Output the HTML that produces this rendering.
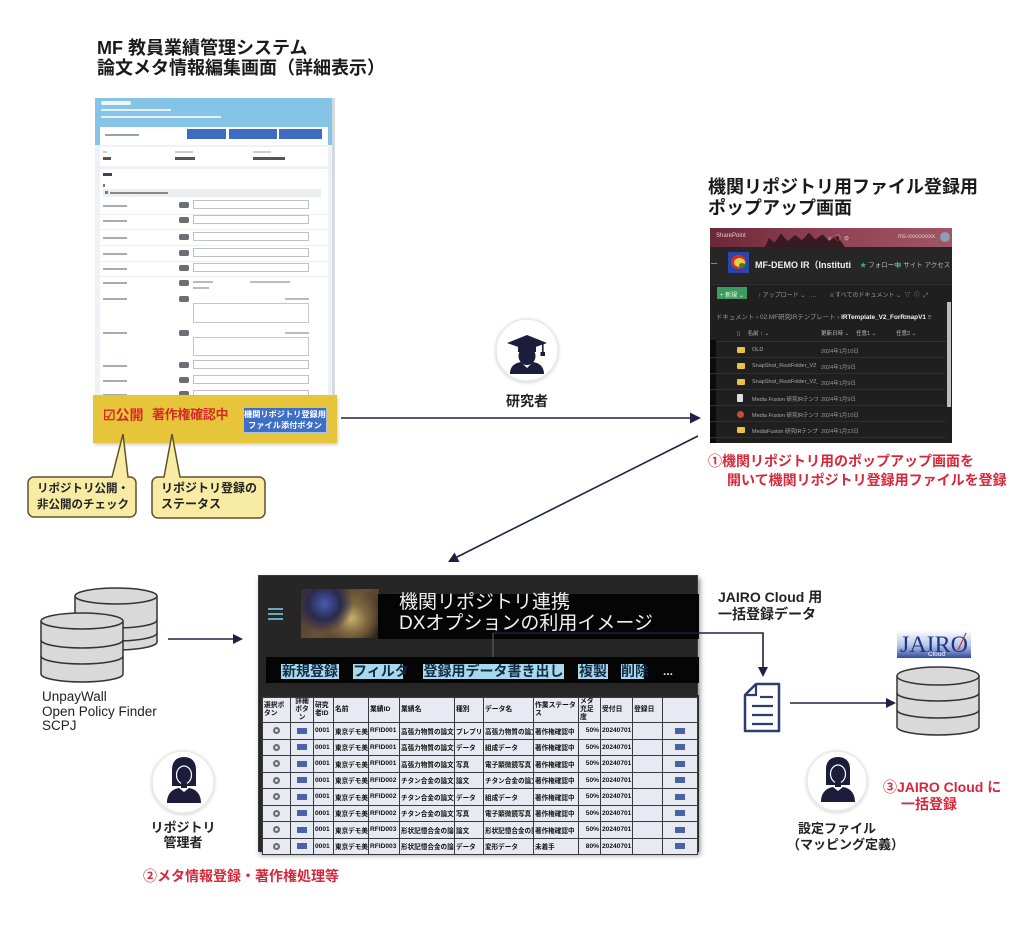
<!DOCTYPE html>
<html><head><meta charset="utf-8">
<style>
*{margin:0;padding:0;box-sizing:border-box}
body{width:1030px;height:944px;background:#fff;position:relative;overflow:hidden;font-family:"Liberation Sans","Noto Sans CJK JP",sans-serif;color:#222}
.a{position:absolute}
.t{font-weight:bold;white-space:nowrap}
.g{position:absolute;background:#b9bdc4;height:2px}
.bd{position:absolute;left:84px;width:10px;height:6px;background:#6b6e74;border-radius:2px}
.in{position:absolute;left:98px;width:116px;height:9px;border:1px solid #bfc3c9;background:#fff}
.lb{position:absolute;left:8px;width:24px;height:2px;background:#a8acb2}
.pt{position:absolute;font-size:6px;color:#aaa;white-space:nowrap}
.pn{position:absolute;left:42px;top:5px;width:66px;overflow:hidden;font-size:5.5px;color:#aaa;white-space:nowrap}
.pd{position:absolute;left:111px;top:5px;font-size:5.5px;color:#999;white-space:nowrap}
.pr{position:absolute;left:0;width:236px;height:16px;border-bottom:1px solid #2e2e2e}
.fo{position:absolute;left:27px;top:5px;width:8px;height:6px;background:#e8c04a;border-radius:1px}
.tb{position:absolute;top:88px;height:15px;background:#a6d9e9;color:#132a44;font-size:14px;line-height:15px;text-align:center;font-weight:bold;white-space:nowrap}
table{border-collapse:collapse;table-layout:fixed;width:435px}
td{border:1px solid #3a3a3a;height:16.5px;font-size:6.6px;font-weight:bold;color:#111;white-space:nowrap;overflow:hidden;padding:0 1px;background:#e7eaf2}
tr.h td{height:21px;white-space:normal;line-height:8px;font-size:6.8px;vertical-align:middle}
td.c{text-align:center}
td.r{text-align:right}
.rb{display:inline-block;width:7px;height:7px;border-radius:50%;border:2px solid #6a6a6a;background:#ddd;vertical-align:middle}
.bb{display:inline-block;width:10px;height:6px;background:#4b62a6;vertical-align:middle}
</style></head><body>

<!-- Top-left title -->
<div class="a t" style="left:97px;top:38px;font-size:18px;line-height:20px;color:#1a1a1a">MF 教員業績管理システム<br>論文メタ情報編集画面（詳細表示）</div>

<!-- Top-left screenshot -->
<div class="a" style="left:95px;top:98px;width:240px;height:297px;background:#eef1f5;overflow:hidden;border-right:3px solid #d6d9de">
  <div class="a" style="left:0;top:0;width:240px;height:47px;background:#86c4e7"></div>
  <div class="a" style="left:6px;top:3px;width:30px;height:4px;background:#eef8fd;border-radius:2px"></div>
  <div class="a" style="left:6px;top:11px;width:70px;height:2px;background:#e2f2fa"></div>
  <div class="a" style="left:6px;top:18px;width:120px;height:2px;background:#e2f2fa"></div>
  <div class="a" style="left:5px;top:29px;width:228px;height:18px;background:#fff"></div>
  <div class="a" style="left:10px;top:36px;width:34px;height:2px;background:#9aa0a8"></div>
  <div class="a" style="left:92px;top:31px;width:39px;height:10px;background:#3d6cc0"></div>
  <div class="a" style="left:134px;top:31px;width:48px;height:10px;background:#3d6cc0"></div>
  <div class="a" style="left:184px;top:31px;width:43px;height:10px;background:#3d6cc0"></div>
  <div class="a" style="left:5px;top:49px;width:228px;height:19px;background:#fff"></div>
  <div class="g" style="left:8px;top:53px;width:4px;background:#ccc"></div>
  <div class="g" style="left:80px;top:53px;width:18px;background:#ccc"></div>
  <div class="g" style="left:158px;top:53px;width:18px;background:#ccc"></div>
  <div class="g" style="left:8px;top:59px;width:8px;height:3px;background:#555"></div>
  <div class="g" style="left:80px;top:59px;width:20px;height:3px;background:#555"></div>
  <div class="g" style="left:158px;top:59px;width:32px;height:3px;background:#555"></div>
  <div class="a" style="left:5px;top:71px;width:228px;height:240px;background:#fff"></div>
  <div class="g" style="left:8px;top:75px;width:9px;height:3px;background:#444"></div>
  <div class="g" style="left:8px;top:86px;width:2px;height:3px;background:#777"></div>
  <div class="a" style="left:8px;top:91px;width:218px;height:8px;background:#eceef1"></div>
  <div class="a" style="left:10px;top:93px;width:3px;height:3px;background:#5a7ac0"></div>
  <div class="g" style="left:15px;top:94px;width:58px;background:#888"></div>
  <div class="lb" style="top:107px"></div><div class="bd" style="top:104px"></div><div class="in" style="top:102px"></div>
  <div class="lb" style="top:122px"></div><div class="bd" style="top:119px"></div><div class="in" style="top:117px"></div>
  <div class="lb" style="top:139px"></div><div class="bd" style="top:136px"></div><div class="in" style="top:134px"></div>
  <div class="lb" style="top:155px"></div><div class="bd" style="top:152px"></div><div class="in" style="top:150px"></div>
  <div class="lb" style="top:170px"></div><div class="bd" style="top:167px"></div><div class="in" style="top:165px"></div>
  <div class="a" style="left:5px;top:116px;width:228px;height:1px;background:#eee"></div>
  <div class="a" style="left:5px;top:131px;width:228px;height:1px;background:#eee"></div>
  <div class="a" style="left:5px;top:147px;width:228px;height:1px;background:#eee"></div>
  <div class="a" style="left:5px;top:163px;width:228px;height:1px;background:#eee"></div>
  <div class="a" style="left:5px;top:178px;width:228px;height:1px;background:#eee"></div>
  <div class="lb" style="top:184px"></div><div class="bd" style="top:182px"></div>
  <div class="g" style="left:98px;top:183px;width:20px;background:#bbb"></div>
  <div class="g" style="left:98px;top:189px;width:16px;background:#bbb"></div>
  <div class="g" style="left:155px;top:183px;width:40px;background:#bbb"></div>
  <div class="lb" style="top:200px"></div><div class="bd" style="top:198px"></div>
  <div class="g" style="left:190px;top:200px;width:24px;background:#bbb"></div>
  <div class="a" style="left:98px;top:205px;width:116px;height:20px;border:1px solid #c3c7cc"></div>
  <div class="lb" style="top:234px"></div><div class="bd" style="top:232px"></div>
  <div class="g" style="left:190px;top:234px;width:24px;background:#bbb"></div>
  <div class="a" style="left:98px;top:239px;width:116px;height:19px;border:1px solid #c3c7cc"></div>
  <div class="lb" style="top:267px"></div><div class="bd" style="top:264px"></div><div class="in" style="top:262px"></div>
  <div class="lb" style="top:282px"></div><div class="bd" style="top:279px"></div><div class="in" style="top:277px"></div>
  <div class="lb" style="top:296px"></div><div class="bd" style="top:293px"></div><div class="in" style="top:292px"></div>
</div>

<!-- Yellow bar -->
<div class="a" style="left:93px;top:395px;width:244px;height:48px;background:#e7c53a;box-shadow:1px 2px 3px rgba(0,0,0,0.2)"></div>
<div class="a t" style="left:103px;top:407px;font-size:14px;line-height:16px;color:#d8282a">☑公開</div>
<div class="a t" style="left:152px;top:407px;font-size:13px;line-height:16px;color:#d8282a;letter-spacing:-0.3px">著作権確認中</div>
<div class="a t" style="left:243px;top:407px;width:84px;height:26px;background:#3f6fc5;border:1px solid #a8c0ea;color:#fff;font-size:8.2px;line-height:11px;text-align:center;padding-top:1px;overflow:hidden">機関リポジトリ登録用<br>ファイル添付ボタン</div>

<!-- Top-right title -->
<div class="a t" style="left:708px;top:177px;font-size:18px;line-height:21px;color:#1a1a1a">機関リポジトリ用ファイル登録用<br>ポップアップ画面</div>

<!-- Popup screenshot -->
<div class="a" style="left:710px;top:228px;width:242px;height:215px;background:#1f1f1f;overflow:hidden">
  <div class="a" style="left:0;top:0;width:242px;height:19px;background:linear-gradient(90deg,#6a2838,#8c3e50 40%,#a05666 100%)"></div>
  <div class="a" style="left:55px;top:4px;width:80px;height:15px;background:#3a1a22;clip-path:polygon(0 100%,5% 40%,12% 70%,20% 10%,28% 60%,38% 20%,46% 55%,55% 5%,63% 50%,72% 15%,80% 60%,90% 25%,100% 100%)"></div>
  <div class="pt" style="left:6px;top:5px;color:#e6c8ce">SharePoint</div>
  <div class="pt" style="left:118px;top:5px;color:#e6c8ce">⌕ &nbsp;◯ &nbsp;⚙</div>
  <div class="pt" style="left:188px;top:6px;color:#e6c8ce">ms-xxxxxxxxx</div>
  <div class="a" style="left:230px;top:4px;width:10px;height:10px;border-radius:50%;background:#8aa0b8"></div>
  <div class="a" style="left:0;top:19px;width:242px;height:36px;background:#262626"></div>
  <div class="a" style="left:1px;top:35px;width:6px;height:1px;background:#888"></div>
  <div class="a" style="left:18px;top:24px;width:21px;height:21px;background:#2848a8"></div>
  <div class="a" style="left:21px;top:27px;width:15px;height:14px;border-radius:50%;background:#d43030"></div>
  <div class="a" style="left:24px;top:30px;width:11px;height:9px;border-radius:50%;background:#e8d040"></div>
  <div class="a" style="left:29px;top:35px;width:6px;height:5px;border-radius:50%;background:#3a7a40"></div>
  <div class="a t" style="left:45px;top:30px;width:96px;overflow:hidden;font-size:9px;color:#f0f0f0">MF-DEMO IR（Institutio..</div>
  <div class="pt" style="left:150px;top:31px;color:#bbb;font-size:6.5px"><span style="color:#4caf70">★</span> フォロー中</div>
  <div class="pt" style="left:186px;top:31px;color:#bbb;font-size:6.5px"><span style="color:#4caf70">⊞</span> サイト アクセス</div>
  <div class="a" style="left:0;top:56px;width:242px;height:1px;background:#333"></div>
  <div class="a" style="left:7px;top:59px;width:30px;height:12px;background:#3e9a62"></div>
  <div class="pt" style="left:10px;top:62px;color:#e8ffe8">+ 新規 ⌄</div>
  <div class="pt" style="left:48px;top:62px;color:#999">↑ アップロード ⌄ &nbsp; …</div>
  <div class="pt" style="left:120px;top:62px;color:#999">≡ すべてのドキュメント ⌄ &nbsp;▽ &nbsp;ⓘ &nbsp;⤢</div>
  <div class="pt" style="left:6px;top:84px;font-size:6.4px;color:#9a9a9a">ドキュメント › 02.MF研究IRテンプレート › <b style="color:#f0f0f0">IRTemplate_V2_ForRmapV1</b> ≡</div>
  <div class="a" style="left:0;top:112px;width:6px;height:103px;background:#0c0c0c"></div>
  <div class="pt" style="left:27px;top:101px;color:#bbb;font-size:5.5px">▯ &nbsp; &nbsp; 名前 ↑ ⌄</div>
  <div class="pt" style="left:111px;top:101px;color:#bbb;font-size:5.5px">更新日時 ⌄</div>
  <div class="pt" style="left:146px;top:101px;color:#bbb;font-size:5.5px">任意1 ⌄</div>
  <div class="pt" style="left:186px;top:101px;color:#bbb;font-size:5.5px">任意2 ⌄</div>
  <div class="a" style="left:6px;top:113px;width:230px;height:1px;background:#333"></div>
  <div class="pr" style="top:114px"><div class="fo"></div><div class="pn">OLD</div><div class="pd">2024年1月10日</div></div>
  <div class="pr" style="top:130px"><div class="fo"></div><div class="pn">SnapShot_RootFolder_V2</div><div class="pd">2024年1月9日</div></div>
  <div class="pr" style="top:146px"><div class="fo"></div><div class="pn">SnapShot_RootFolder_V2_1...</div><div class="pd">2024年1月9日</div></div>
  <div class="pr" style="top:162px"><div class="fo" style="background:#ddd;width:6px;height:8px;top:4px"></div><div class="pn">Media Fusion 研究IRテンプレ...</div><div class="pd">2024年1月9日</div></div>
  <div class="pr" style="top:178px"><div class="fo" style="background:#c84a3a;width:7px;height:7px;border-radius:50%"></div><div class="pn">Media Fusion 研究IRテンプ...</div><div class="pd">2024年1月10日</div></div>
  <div class="pr" style="top:194px"><div class="fo"></div><div class="pn">MediaFusion 研究IRテンプレ...</div><div class="pd">2024年1月22日</div></div>
  <div class="a" style="left:237px;top:74px;width:4px;height:105px;background:#bdbdbd"></div>
</div>

<!-- Red caption 1 -->
<div class="a t" style="left:708px;top:452px;font-size:14px;line-height:19px;color:#d6283a">①機関リポジトリ用のポップアップ画面を<br><span style="padding-left:19px">開いて機関リポジトリ登録用ファイルを登録</span></div>

<!-- Researcher label -->
<div class="a t" style="left:497px;top:391px;width:60px;text-align:center;font-size:14px;color:#222">研究者</div>

<!-- Bottom panel -->
<div class="a" style="left:258px;top:575px;width:440px;height:277px;background:#262626;border:1px solid #3a3a3a;box-shadow:2px 3px 5px rgba(0,0,0,0.45)">
  <div class="a" style="left:9px;top:32px;width:15px;height:2px;background:#6aa8c0"></div>
  <div class="a" style="left:9px;top:37px;width:15px;height:2px;background:#6aa8c0"></div>
  <div class="a" style="left:9px;top:42px;width:15px;height:2px;background:#6aa8c0"></div>
  <div class="a" style="left:42px;top:13px;width:78px;height:49px;background:radial-gradient(circle at 30% 30%,#4a5ab0 0%,#2a2a50 25%,transparent 45%),radial-gradient(circle at 65% 60%,#c8b070 0%,#806840 25%,transparent 50%),linear-gradient(135deg,#3a3028,#6a5038 50%,#2a2018)"></div>
  <div class="a" style="left:119px;top:18px;width:321px;height:45px;background:#050505"></div>
  <div class="a" style="left:140px;top:16px;font-size:19px;line-height:21px;color:#f2f2f2;white-space:nowrap">機関リポジトリ連携<br>DXオプションの利用イメージ</div>
  <div class="a" style="left:7px;top:81px;width:433px;height:26px;background:#050505"></div>
  <div class="tb" style="left:22px;width:58px">新規登録</div>
  <div class="tb" style="left:94px;width:50px">フィルタ</div>
  <div class="tb" style="left:164px;width:141px">登録用データ書き出し</div>
  <div class="tb" style="left:319px;width:30px">複製</div>
  <div class="tb" style="left:362px;width:23px">削除</div>
  <div class="a t" style="left:404px;top:88px;font-size:12px;color:#ddd">...</div>
  <div class="a" style="left:1px;top:119px;width:439px;height:157px;background:#2a2a2a;padding:2px 0 0 2px">
  <table>
    <colgroup><col style="width:28px"><col style="width:23px"><col style="width:20px"><col style="width:35px"><col style="width:31px"><col style="width:55px"><col style="width:29px"><col style="width:50px"><col style="width:45px"><col style="width:22px"><col style="width:32px"><col style="width:30px"><col style="width:35px"></colgroup>
    <tr class="h"><td>選択ボタン</td><td class="c">詳細ボタン</td><td>研究者ID</td><td>名前</td><td>業績ID</td><td>業績名</td><td>種別</td><td>データ名</td><td>作業ステータス</td><td>メタ充足度</td><td>受付日</td><td>登録日</td><td></td></tr>
    <tr><td class="c"><span class="rb"></span></td><td class="c"><span class="bb"></span></td><td>0001</td><td>東京デモ美</td><td>RFID001</td><td>高張力物質の論文</td><td>プレプリント</td><td>高張力物質の論文</td><td>著作権確認中</td><td class="r">50%</td><td>20240701</td><td></td><td class="c"><span class="bb"></span></td></tr>
    <tr><td class="c"><span class="rb"></span></td><td class="c"><span class="bb"></span></td><td>0001</td><td>東京デモ美</td><td>RFID001</td><td>高張力物質の論文</td><td>データ</td><td>組成データ</td><td>著作権確認中</td><td class="r">50%</td><td>20240701</td><td></td><td class="c"><span class="bb"></span></td></tr>
    <tr><td class="c"><span class="rb"></span></td><td class="c"><span class="bb"></span></td><td>0001</td><td>東京デモ美</td><td>RFID001</td><td>高張力物質の論文</td><td>写真</td><td>電子顕微鏡写真</td><td>著作権確認中</td><td class="r">50%</td><td>20240701</td><td></td><td class="c"><span class="bb"></span></td></tr>
    <tr><td class="c"><span class="rb"></span></td><td class="c"><span class="bb"></span></td><td>0001</td><td>東京デモ美</td><td>RFID002</td><td>チタン合金の論文</td><td>論文</td><td>チタン合金の論文</td><td>著作権確認中</td><td class="r">50%</td><td>20240701</td><td></td><td class="c"><span class="bb"></span></td></tr>
    <tr><td class="c"><span class="rb"></span></td><td class="c"><span class="bb"></span></td><td>0001</td><td>東京デモ美</td><td>RFID002</td><td>チタン合金の論文</td><td>データ</td><td>組成データ</td><td>著作権確認中</td><td class="r">50%</td><td>20240701</td><td></td><td class="c"><span class="bb"></span></td></tr>
    <tr><td class="c"><span class="rb"></span></td><td class="c"><span class="bb"></span></td><td>0001</td><td>東京デモ美</td><td>RFID002</td><td>チタン合金の論文</td><td>写真</td><td>電子顕微鏡写真</td><td>著作権確認中</td><td class="r">50%</td><td>20240701</td><td></td><td class="c"><span class="bb"></span></td></tr>
    <tr><td class="c"><span class="rb"></span></td><td class="c"><span class="bb"></span></td><td>0001</td><td>東京デモ美</td><td>RFID003</td><td>形状記憶合金の論文</td><td>論文</td><td>形状記憶合金の論文</td><td>著作権確認中</td><td class="r">50%</td><td>20240701</td><td></td><td class="c"><span class="bb"></span></td></tr>
    <tr><td class="c"><span class="rb"></span></td><td class="c"><span class="bb"></span></td><td>0001</td><td>東京デモ美</td><td>RFID003</td><td>形状記憶合金の論文</td><td>データ</td><td>変形データ</td><td>未着手</td><td class="r">80%</td><td>20240701</td><td></td><td class="c"><span class="bb"></span></td></tr>
  </table>
  </div>
</div>

<!-- Left labels -->
<div class="a" style="left:42px;top:690px;font-size:13.5px;line-height:14.5px;color:#222;white-space:nowrap">UnpayWall<br>Open Policy Finder<br>SCPJ</div>
<div class="a t" style="left:143px;top:820px;width:80px;text-align:center;font-size:13px;line-height:15px;color:#222">リポジトリ<br>管理者</div>
<div class="a t" style="left:143px;top:866px;font-size:14px;color:#d6283a">②メタ情報登録・著作権処理等</div>

<!-- Right labels -->
<div class="a t" style="left:718px;top:589px;font-size:14px;line-height:17px;color:#222">JAIRO Cloud 用<br>一括登録データ</div>
<div class="a t" style="left:787px;top:821px;width:100px;text-align:center;font-size:13px;line-height:16px;color:#222">設定ファイル<br>（マッピング定義）</div>
<div class="a t" style="left:883px;top:779px;font-size:14px;line-height:17px;color:#d6283a">③JAIRO Cloud に<br><span style="padding-left:18px">一括登録</span></div>

<svg class="a" style="left:0;top:0" width="1030" height="944" viewBox="0 0 1030 944">
  <defs>
    <linearGradient id="jg" x1="0" y1="0" x2="0" y2="1">
      <stop offset="0" stop-color="#ffffff"/>
      <stop offset="0.55" stop-color="#b8c6e8"/>
      <stop offset="1" stop-color="#2f4c9e"/>
    </linearGradient>
    <filter id="sh" x="-20%" y="-20%" width="140%" height="140%"><feDropShadow dx="0" dy="1" stdDeviation="1.5" flood-color="#000" flood-opacity="0.18"/></filter>
  </defs>

  <!-- callouts -->
  <path d="M34,477 H112 L123,434 L128,477 H130 A6,6 0 0 1 136,483 V511 A6,6 0 0 1 130,517 H34 A6,6 0 0 1 28,511 V483 A6,6 0 0 1 34,477 Z" fill="#f8eba4" stroke="#5f5328" stroke-width="1.5"/>
  <path d="M158,477 H164 L172,434 L180,477 H259 A6,6 0 0 1 265,483 V512 A6,6 0 0 1 259,518 H158 A6,6 0 0 1 152,512 V483 A6,6 0 0 1 158,477 Z" fill="#f8eba4" stroke="#5f5328" stroke-width="1.5"/>
  <text x="37" y="492" font-size="11.5" font-weight="bold" fill="#222" font-family="Liberation Sans, Noto Sans CJK JP, sans-serif">リポジトリ公開・</text>
  <text x="37" y="508" font-size="11.5" font-weight="bold" fill="#222" font-family="Liberation Sans, Noto Sans CJK JP, sans-serif">非公開のチェック</text>
  <text x="161" y="492" font-size="12" font-weight="bold" fill="#222" font-family="Liberation Sans, Noto Sans CJK JP, sans-serif">リポジトリ登録の</text>
  <text x="161" y="508" font-size="12" font-weight="bold" fill="#222" font-family="Liberation Sans, Noto Sans CJK JP, sans-serif">ステータス</text>

  <!-- arrows -->
  <g stroke="#1f2144" stroke-width="1.6" fill="none">
    <line x1="341" y1="418" x2="692" y2="418"/>
    <line x1="698" y1="436" x2="455" y2="558"/>
    <line x1="168" y1="639" x2="235" y2="639"/>
    <line x1="790" y1="703" x2="888" y2="703"/>
    <polyline points="493,633 763,633 763,668"/>
  </g>
  <line x1="493" y1="633" x2="493" y2="657" stroke="#666" stroke-width="1"/>
  <g fill="#1f2144">
    <polygon points="701,418 690,412.5 690,423.5"/>
    <polygon points="448,562 459.5,562 454.5,552.5"/>
    <polygon points="243,639 233,634 233,644"/>
    <polygon points="896,703 886,698 886,708"/>
    <polygon points="763,677 758,667 768,667"/>
  </g>

  <!-- left cylinders -->
  <g stroke="#333" stroke-width="1.5" fill="#d9d9d9">
    <path d="M75,596 V642 A41,8 0 0 0 157,642 V596"/>
    <ellipse cx="116" cy="596" rx="41" ry="8"/>
    <path d="M75,620 A41,8 0 0 0 157,620" fill="none"/>
    <path d="M75,633 A41,8 0 0 0 157,633" fill="none"/>
    <path d="M41,621 V674 A41,8 0 0 0 123,674 V621"/>
    <ellipse cx="82" cy="621" rx="41" ry="8"/>
    <path d="M41,640 A41,8 0 0 0 123,640" fill="none"/>
    <path d="M41,656 A41,8 0 0 0 123,656" fill="none"/>
  </g>

  <!-- JAIRO cylinder -->
  <g stroke="#333" stroke-width="1.5" fill="#d9d9d9">
    <path d="M897,676 V727 A41,8 0 0 0 979,727 V676"/>
    <ellipse cx="938" cy="676" rx="41" ry="9"/>
    <path d="M897,693 A41,8 0 0 0 979,693" fill="none"/>
    <path d="M897,710 A41,8 0 0 0 979,710" fill="none"/>
  </g>

  <!-- JAIRO logo -->
  <rect x="897" y="630" width="74" height="28" fill="url(#jg)"/>
  <text x="900" y="652" font-size="23" font-family="Liberation Serif, serif" fill="#1c3584" textLength="68" lengthAdjust="spacingAndGlyphs">JAIRO</text>
  <text x="928" y="656" font-size="6.5" font-family="Liberation Sans, sans-serif" fill="#fff">Cloud</text>
  <line x1="958" y1="650" x2="966" y2="633" stroke="#c0392b" stroke-width="1.2"/>

  <!-- document icon -->
  <path d="M756,684 H779 V731 H745 V695 Z" fill="#fff" stroke="#2c3e6e" stroke-width="2.5" stroke-linejoin="round"/>
  <path d="M745,695 H756 V684" fill="none" stroke="#2c3e6e" stroke-width="2.2"/>
  <g stroke="#2c3e6e" stroke-width="2.2">
    <line x1="760" y1="697" x2="773" y2="697"/>
    <line x1="752" y1="706" x2="773" y2="706"/>
    <line x1="752" y1="715" x2="773" y2="715"/>
    <line x1="752" y1="724" x2="773" y2="724"/>
  </g>

  <!-- researcher icon -->
  <circle cx="527" cy="350" r="31" fill="#fff" stroke="#e8e8e8" stroke-width="1.5" filter="url(#sh)"/>
  <g fill="#1b1d3a">
    <path d="M518,345 V352 H536 V345 Z"/>
    <polygon points="507,343 527,335 547,343 527,350"/>
    <rect x="542" y="343" width="1.6" height="10"/>
    <rect x="540.5" y="352" width="4.5" height="4"/>
    <ellipse cx="527" cy="356" rx="8.5" ry="9"/>
    <path d="M510,374 C510,366 515,363 521,362 L527,368 L533,362 C539,363 544,366 544,374 Z"/>
  </g>

  <!-- admin icon -->
  <circle cx="183" cy="782" r="31" fill="#fff" stroke="#e8e8e8" stroke-width="1.5" filter="url(#sh)"/>
  <g fill="#1b1d3a">
    <path d="M172,786 V770 C172,761 177,757 184,757 C191,757 196,761 196,770 V786 Z"/>
    <path d="M167,803 C167,793 173,789 179,788 L184,792 L189,788 C195,789 201,793 201,803 Z"/>
  </g>
  <ellipse cx="184" cy="775" rx="7.5" ry="9" fill="#1b1d3a" stroke="#fff" stroke-width="1.2"/>
  <rect x="181" y="783" width="6" height="5" fill="#1b1d3a"/>

  <!-- settings icon -->
  <circle cx="837" cy="781" r="30" fill="#fff" stroke="#e8e8e8" stroke-width="1.5" filter="url(#sh)"/>
  <g fill="#1b1d3a">
    <path d="M826,785 V769 C826,761 831,757 838,757 C845,757 850,761 850,769 V785 Z"/>
    <path d="M821,802 C821,792 827,788 833,787 L838,791 L843,787 C849,788 855,792 855,802 Z"/>
  </g>
  <ellipse cx="838" cy="774" rx="7.5" ry="9" fill="#1b1d3a" stroke="#fff" stroke-width="1.2"/>
  <rect x="835" y="782" width="6" height="5" fill="#1b1d3a"/>
</svg>

</body></html>
